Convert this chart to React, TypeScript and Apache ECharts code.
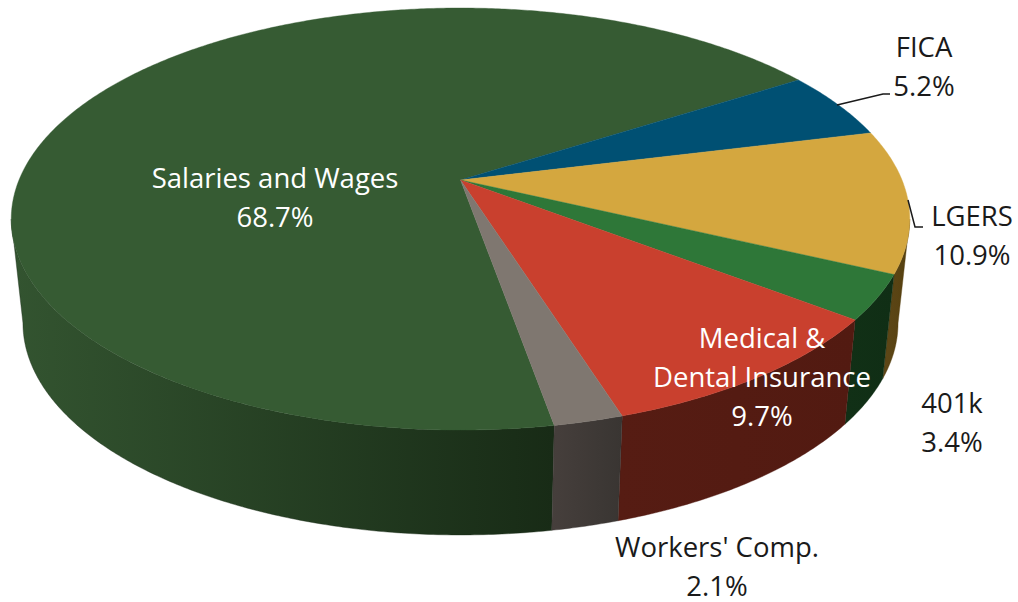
import React, { useEffect, useRef } from "react";
import * as echarts from "echarts";

const categories = ["Salaries and Wages", "FICA", "LGERS", "401k", "Medical &\nDental Insurance", "Workers' Comp."];
const values = [68.7, 5.2, 10.9, 3.4, 9.7, 2.1];
const topColors = ["#365b33", "#005073", "#d4a73f", "#2e7738", "#c9402e", "#7f7770"];
const wallLeftColors = ["#335430", "#00283a", "#5e4718", "#113016", "#561c13", "#463f3c"];
const wallRightColors = ["#182b16", "#00283a", "#55400f", "#102e15", "#521a11", "#393532"];
const labelColors = ["#ffffff", "#1a1a1a", "#1a1a1a", "#1a1a1a", "#ffffff", "#1a1a1a"];
const labelCenters = [[275, 196.5], [924, 65.5], [972, 234.5], [952, 421.5], [762, 376], [717, 565.5]];
const leaderLines = [
  [[837, 105], [883, 94], [890, 94]],
  [[908, 200], [915, 227], [923, 227]],
];

const START_DEG = 170;
const K = 0.185;
const TOP = { cx: 460.5, cy: 180, rx: 441.5, ry: 203.8 };
const BOTTOM = { cx: 460.5, cy: 283.8, rx: 430, ry: 204.7 };
const FRONT_FROM = (Math.acos(-K) * 180) / Math.PI;
const FRONT_TO = 360 - FRONT_FROM;
const LINE_STEP = 39;

const project = (face: typeof TOP, deg: number) => {
  const a = (deg * Math.PI) / 180;
  const u = Math.sin(a);
  const v = -Math.cos(a);
  const w = 1 - K * v;
  return [face.cx + (face.rx * u) / w, face.cy + (face.ry * v) / w];
};

const arc = (face: typeof TOP, from: number, to: number) => {
  const n = Math.max(2, Math.ceil(Math.abs(to - from) * 2));
  const pts: number[][] = [];
  for (let i = 0; i <= n; i++) pts.push(project(face, from + ((to - from) * i) / n));
  return pts;
};

const total = values.reduce((s, v) => s + v, 0);
const sliceData = values.map((v, i) => {
  const before = values.slice(0, i).reduce((s, x) => s + x, 0);
  return [START_DEG + (before / total) * 360, START_DEG + ((before + v) / total) * 360, i];
});

const visibleRanges = (a: number, b: number) => {
  const out: number[][] = [];
  for (const shift of [-360, 0, 360]) {
    const f = Math.max(a + shift, FRONT_FROM);
    const t = Math.min(b + shift, FRONT_TO);
    if (t > f) out.push([f, t]);
  }
  return out;
};

export default function App() {
  const ref = useRef<HTMLDivElement>(null);
  useEffect(() => {
    const chart = echarts.init(ref.current!, null, { renderer: "svg" });
    const font = '"Open Sans", "Noto Sans", sans-serif';
    chart.setOption({
      animation: false,
      backgroundColor: "#ffffff",
      series: [
        {
          type: "custom",
          coordinateSystem: "none",
          silent: true,
          z: 1,
          data: sliceData,
          renderItem: (_p: any, api: any) => {
            const i = api.value(2);
            const children = visibleRanges(api.value(0), api.value(1)).map(([f, t]) => {
              const upper = arc(TOP, f, t);
              const lower = arc(BOTTOM, f, t).reverse();
              const xs = [...upper, ...lower].map((p) => p[0]);
              const x0 = Math.min(...xs);
              const x1 = Math.max(...xs);
              const fill = new echarts.graphic.LinearGradient(
                x0, 0, x1, 0,
                [
                  { offset: 0, color: wallLeftColors[i] },
                  { offset: 1, color: wallRightColors[i] },
                ],
                true
              );
              return {
                type: "polygon",
                shape: { points: [...upper, ...lower] },
                style: { fill, stroke: wallRightColors[i], lineWidth: 0.4 },
              };
            });
            return { type: "group", children };
          },
        },
        {
          type: "custom",
          coordinateSystem: "none",
          silent: true,
          z: 2,
          data: sliceData,
          renderItem: (_p: any, api: any) => {
            const i = api.value(2);
            const pts = [[TOP.cx, TOP.cy], ...arc(TOP, api.value(0), api.value(1))];
            return {
              type: "polygon",
              shape: { points: pts },
              style: { fill: topColors[i], stroke: topColors[i], lineWidth: 0.4 },
            };
          },
        },
        {
          type: "custom",
          coordinateSystem: "none",
          silent: true,
          z: 3,
          data: leaderLines.map((_, i) => [i]),
          renderItem: (_p: any, api: any) => ({
            type: "polyline",
            shape: { points: leaderLines[api.value(0)] },
            style: { fill: "none", stroke: "#1a1a1a", lineWidth: 1.5 },
          }),
        },
        {
          type: "custom",
          coordinateSystem: "none",
          silent: true,
          z: 4,
          data: values.map((_, i) => [i]),
          renderItem: (_p: any, api: any) => {
            const i = api.value(0);
            const lines = [...categories[i].split("\n"), `${values[i].toFixed(1)}%`];
            return {
              type: "group",
              children: lines.map((line, j) => ({
                type: "text",
                x: labelCenters[i][0],
                y: labelCenters[i][1] + (j - (lines.length - 1) / 2) * LINE_STEP,
                style: {
                  text: line,
                  fill: labelColors[i],
                  font: `27.5px ${font}`,
                  lineHeight: 30,
                  align: "center",
                  verticalAlign: "middle",
                },
              })),
            };
          },
        },
      ],
    });
    return () => chart.dispose();
  }, []);
  return <div ref={ref} style={{ position: "absolute", left: 0, top: 0, width: 1018, height: 602 }} />;
}
